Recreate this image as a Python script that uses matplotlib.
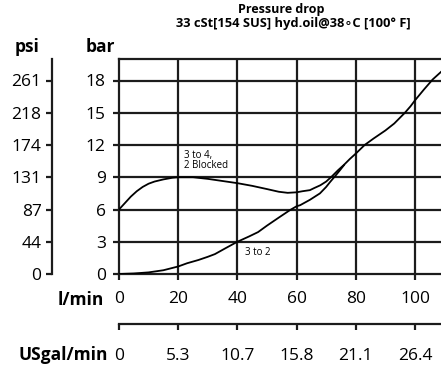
import matplotlib
matplotlib.use("Agg")
import matplotlib.pyplot as plt

plt.rcParams['font.family'] = ['Open Sans', 'DejaVu Sans']

# ---- data ----
flow_ticks = [0, 20, 40, 60, 80, 100]
flow_labels = ['0', '20', '40', '60', '80', '100']
usgal_labels = ['0', '5.3', '10.7', '15.8', '21.1', '26.4']
bar_ticks = [0, 3, 6, 9, 12, 15, 18]
bar_labels = ['0', '3', '6', '9', '12', '15', '18']
psi_labels = ['0', '44', '87', '131', '174', '218', '261']

blocked_x = [0, 2, 4, 6, 8, 10, 12, 15, 18, 20, 25, 30, 35, 40, 45, 50, 54, 57,
             60, 62, 64.5, 66, 68, 70, 72, 74, 76, 78, 80, 83, 86, 90, 93,
             96.6, 98.5, 100, 103, 106, 108.8]
blocked_y = [6.0, 6.6, 7.2, 7.7, 8.1, 8.4, 8.6, 8.8, 8.95, 9.0, 9.0, 8.85, 8.65,
             8.45, 8.2, 7.9, 7.65, 7.55, 7.6, 7.7, 7.8, 8.0, 8.25, 8.6, 9.1,
             9.65, 10.15, 10.7, 11.2, 12.0, 12.6, 13.35, 14.0, 15.0, 15.6,
             16.15, 17.15, 18.1, 18.8]

to2_x = [0, 5, 10, 15, 20, 23, 26.8, 30, 32.4, 36, 40, 44, 47, 50, 54, 57.8,
         60, 61.2, 64.5, 67.9, 70, 71.3, 73, 74.5, 76]
to2_y = [0, 0.05, 0.15, 0.35, 0.7, 1.0, 1.3, 1.6, 1.85, 2.4, 3.0, 3.5, 3.9,
         4.5, 5.25, 5.95, 6.3, 6.4, 6.9, 7.5, 8.1, 8.55, 9.1, 9.6, 10.12]

W, H = 441, 366
fig = plt.figure(figsize=(W / 100, H / 100), dpi=100)

def fx(px):
    return px / W

def fy(py):
    return 1 - py / H

x0, x1, ytop, ybot = 119, 441, 59, 274
ax = fig.add_axes([fx(x0), fy(ybot), fx(x1) - fx(x0), fy(ytop) - fy(ybot)])
ax.set_xlim(0, 108.8)
ax.set_ylim(0, 20)

ink = '#1c1c1c'
glw = 1.6
for v in flow_ticks[1:]:
    ax.axvline(v, color=ink, lw=glw, zorder=1)
for v in bar_ticks[1:]:
    ax.axhline(v, color=ink, lw=glw, zorder=1)

ax.plot(blocked_x, blocked_y, color='black', lw=1.3, zorder=3)
ax.plot(to2_x, to2_y, color='black', lw=1.3, zorder=3)

for s in ['left', 'top', 'bottom']:
    ax.spines[s].set_linewidth(glw)
    ax.spines[s].set_color(ink)
ax.spines['right'].set_visible(False)

fs = 12.5
ax.set_xticks(flow_ticks, flow_labels)
ax.set_yticks(bar_ticks, bar_labels)
ax.tick_params(axis='both', colors=ink, width=1.6, length=4.5, labelsize=fs,
               labelcolor='black')
ax.tick_params(axis='y', pad=5)
ax.tick_params(axis='x', pad=8)

# psi axis
sy = ax.secondary_yaxis((52 - x0) / (x1 - x0))
sy.set_yticks(bar_ticks, psi_labels)
sy.spines['left'].set_linewidth(glw)
sy.spines['left'].set_color(ink)
sy.tick_params(colors=ink, width=1.6, length=4.5, labelsize=fs,
               labelcolor='black', pad=3)

# USgal/min axis
sx = ax.secondary_xaxis(-(324 - ybot) / (ybot - ytop))
sx.set_xticks(flow_ticks, usgal_labels)
sx.spines['bottom'].set_linewidth(glw)
sx.spines['bottom'].set_color(ink)
sx.tick_params(colors=ink, width=1.6, length=4.5, labelsize=fs,
               labelcolor='black', pad=13)

# header/axis names
fig.text(fx(27), fy(47), 'psi', ha='center', va='center', fontsize=fs,
         fontweight='bold')
fig.text(fx(100), fy(47), 'bar', ha='center', va='center', fontsize=fs,
         fontweight='bold')
fig.text(fx(104), fy(300), 'l/min', ha='right', va='center', fontsize=fs,
         fontweight='bold')
fig.text(fx(108), fy(355), 'USgal/min', ha='right', va='center', fontsize=fs,
         fontweight='bold')

# title
fig.text(fx(281), fy(9), 'Pressure drop', ha='center', va='center',
         fontsize=9, fontweight='bold')
fig.text(fx(293), fy(24), '33 cSt[154 SUS] hyd.oil@38\u2218C [100\u00b0 F]',
         ha='center', va='center', fontsize=9.3, fontweight='bold')

# annotations
ax.text(22.0, 10.55, '3 to 4,\n2 Blocked', fontsize=7, ha='left',
        va='center', linespacing=0.95)
ax.text(42.5, 2.0, '3 to 2', fontsize=7, ha='left', va='center')

fig.savefig('out.png', dpi=100, facecolor='white')
